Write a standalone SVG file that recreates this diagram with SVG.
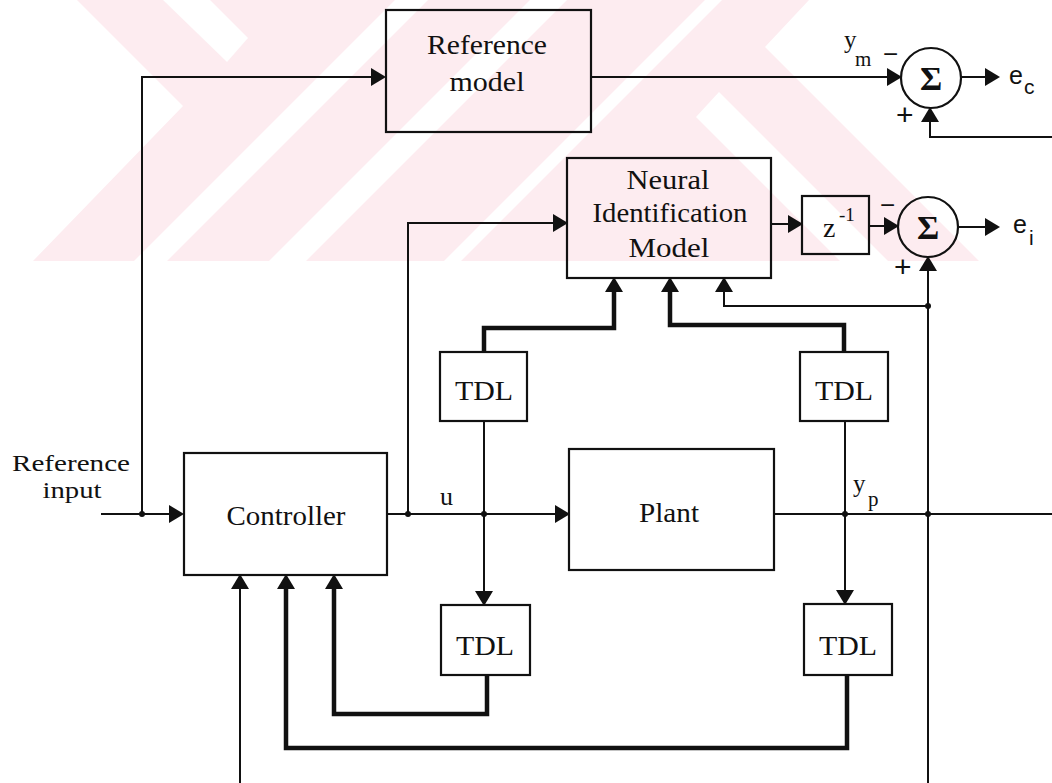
<svg xmlns="http://www.w3.org/2000/svg" width="1052" height="783" viewBox="0 0 1052 783">
<style>
.box{fill:none;stroke:#111;stroke-width:2.2}
.ln{fill:none;stroke:#111;stroke-width:2}
.tk{fill:none;stroke:#111;stroke-width:4.5}
.t{font-family:"Liberation Serif","Times New Roman",serif;font-size:27px;fill:#111;text-anchor:middle}
.lbl{font-family:"Liberation Serif","Times New Roman",serif;font-size:23px;fill:#111;text-anchor:middle}
.s{font-family:"Liberation Serif","Times New Roman",serif;fill:#111}
.a{font-family:"Liberation Sans",Arial,sans-serif;fill:#111}
.dot{fill:#111}
</style>
<defs>
<marker id="ah" markerUnits="userSpaceOnUse" markerWidth="15" markerHeight="20" refX="10" refY="10" orient="auto">
<path d="M0,1 L15,10 L0,19 z" fill="#111"/>
</marker>
</defs>
<rect width="1052" height="783" fill="#fff"/>
<g id="watermark">
<polygon points="77,0 809,0 765,47 979,261 33,261 183,106" fill="#fdecf0"/>
<polygon points="163,0 210,0 248,38 227,62" fill="#fff"/>
<polygon points="395,0 428,0 167,261 134,261" fill="#fff"/>
<polygon points="530,0 567,0 306,261 269,261" fill="#fff"/>
<polygon points="705,0 722,0 461,261 444,261" fill="#fff"/>
<polygon points="719,92 888,261 840,261 696,117" fill="#fff"/>
</g>
<g id="connectors">
<path class="ln" d="M101,514 H179" marker-end="url(#ah)"/>
<path class="ln" d="M142,514 V77 H381" marker-end="url(#ah)"/>
<path class="ln" d="M387,514 H565" marker-end="url(#ah)"/>
<path class="ln" d="M408,514 V223 H563" marker-end="url(#ah)"/>
<path class="ln" d="M591,77 H897" marker-end="url(#ah)"/>
<path class="ln" d="M961,77 H995" marker-end="url(#ah)"/>
<path class="ln" d="M1052,137 H930 V112" marker-end="url(#ah)"/>
<path class="ln" d="M771,224 H798" marker-end="url(#ah)"/>
<path class="ln" d="M869,226 H894" marker-end="url(#ah)"/>
<path class="ln" d="M958,227 H995" marker-end="url(#ah)"/>
<path class="ln" d="M774,514 H1052"/>
<path class="ln" d="M928,783 V261" marker-end="url(#ah)"/>
<path class="ln" d="M928,306 H724 V282" marker-end="url(#ah)"/>
<path class="tk" d="M484,352 V328 H614 V282" marker-end="url(#ah)"/>
<path class="tk" d="M844,352 V325 H670 V282" marker-end="url(#ah)"/>
<path class="ln" d="M484,421 V601" marker-end="url(#ah)"/>
<path class="ln" d="M845,421 V600" marker-end="url(#ah)"/>
<path class="tk" d="M487,675 V714 H334 V579" marker-end="url(#ah)"/>
<path class="tk" d="M847,675 V748 H286 V579" marker-end="url(#ah)"/>
<path class="ln" d="M240,783 V579" marker-end="url(#ah)"/>
<circle class="dot" cx="142" cy="514" r="3"/>
<circle class="dot" cx="408" cy="514" r="3"/>
<circle class="dot" cx="484" cy="514" r="3"/>
<circle class="dot" cx="845" cy="514" r="3"/>
<circle class="dot" cx="928" cy="514" r="3"/>
<circle class="dot" cx="928" cy="306" r="3"/>
</g>
<g id="reference-model">
<rect class="box" x="386" y="10" width="205" height="122"/>
<text class="t" x="487" y="54" textLength="120" lengthAdjust="spacingAndGlyphs">Reference</text>
<text class="t" x="487" y="91" textLength="75" lengthAdjust="spacingAndGlyphs">model</text>
</g>
<g id="sum-c">
<circle class="box" cx="931" cy="78" r="30"/>
<text class="s" x="931" y="90" font-size="34" font-weight="bold" text-anchor="middle">Σ</text>
<text class="s" x="844" y="48" font-size="25">y</text>
<text class="s" x="855" y="66" font-size="21">m</text>
<text class="a" x="883" y="63" font-size="26">−</text>
<text class="a" x="896" y="125" font-size="30">+</text>
<text class="a" x="1009" y="84" font-size="25">e</text>
<text class="a" x="1024" y="94" font-size="21">c</text>
</g>
<g id="neural-identification-model">
<rect class="box" x="567" y="158" width="204" height="120"/>
<text class="t" x="668" y="189" textLength="83" lengthAdjust="spacingAndGlyphs">Neural</text>
<text class="t" x="670" y="222" textLength="155" lengthAdjust="spacingAndGlyphs">Identification</text>
<text class="t" x="669" y="257" textLength="81" lengthAdjust="spacingAndGlyphs">Model</text>
</g>
<g id="delay">
<rect class="box" x="802" y="196" width="67" height="58"/>
<text class="s" x="823" y="237" font-size="28">z</text>
<text class="s" x="839" y="221" font-size="19">-1</text>
</g>
<g id="sum-i">
<circle class="box" cx="928" cy="227" r="30"/>
<text class="s" x="928" y="239" font-size="34" font-weight="bold" text-anchor="middle">Σ</text>
<text class="a" x="880" y="214" font-size="26">−</text>
<text class="a" x="894" y="277" font-size="30">+</text>
<text class="a" x="1013" y="233" font-size="25">e</text>
<text class="a" x="1029" y="245" font-size="21">i</text>
</g>
<g id="controller">
<rect class="box" x="184" y="453" width="203" height="122"/>
<text class="t" x="286" y="525" textLength="119" lengthAdjust="spacingAndGlyphs">Controller</text>
</g>
<g id="plant">
<rect class="box" x="569" y="449" width="205" height="121"/>
<text class="t" x="669" y="522" textLength="60" lengthAdjust="spacingAndGlyphs">Plant</text>
</g>
<g id="tdl-u-top">
<rect class="box" x="440" y="352" width="87" height="69"/>
<text class="t" x="484" y="400" textLength="58" lengthAdjust="spacingAndGlyphs">TDL</text>
</g>
<g id="tdl-y-top">
<rect class="box" x="800" y="352" width="88" height="69"/>
<text class="t" x="844" y="400" textLength="58" lengthAdjust="spacingAndGlyphs">TDL</text>
</g>
<g id="tdl-u-bottom">
<rect class="box" x="441" y="605" width="89" height="70"/>
<text class="t" x="485" y="655" textLength="58" lengthAdjust="spacingAndGlyphs">TDL</text>
</g>
<g id="tdl-y-bottom">
<rect class="box" x="804" y="604" width="88" height="71"/>
<text class="t" x="848" y="655" textLength="58" lengthAdjust="spacingAndGlyphs">TDL</text>
</g>
<g id="labels">
<text class="lbl" x="71" y="471" textLength="118" lengthAdjust="spacingAndGlyphs">Reference</text>
<text class="lbl" x="72" y="498" textLength="59" lengthAdjust="spacingAndGlyphs">input</text>
<text class="s" x="440" y="505" font-size="26">u</text>
<text class="s" x="853" y="492" font-size="25">y</text>
<text class="s" x="868" y="506" font-size="21">p</text>
</g>
</svg>
